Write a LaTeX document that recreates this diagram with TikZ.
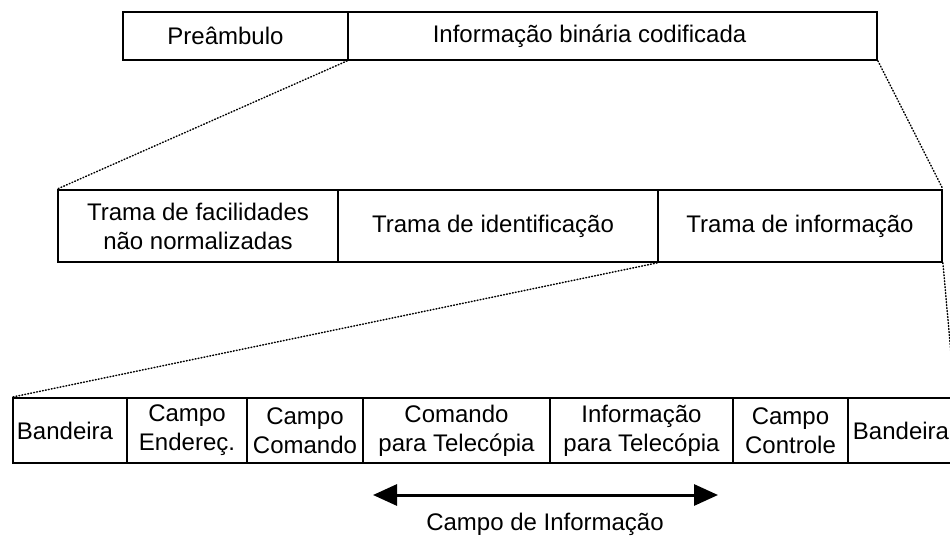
\documentclass[tikz,border=0pt]{standalone}
\usepackage{fontspec}
\setmainfont{Liberation Sans}
\usetikzlibrary{arrows.meta}
\begin{document}
\begin{tikzpicture}[x=1pt,y=-1pt,
  cell/.style={draw, line width=1.8pt, inner sep=0pt, align=center,
    font=\fontsize{24}{29}\selectfont},
  zoomline/.style={line width=1.5pt, dash pattern=on 0.8pt off 2.2pt, line cap=round},
  span/.style={line width=3pt, {Triangle[length=24pt,width=21pt]}-{Triangle[length=24pt,width=21pt]}},
  lbl/.style={font=\fontsize{24}{29}\selectfont, inner sep=0pt}]
\useasboundingbox (0,0) rectangle (950,545);
\clip (0,0) rectangle (950,545);
% top row
\node[cell, minimum width=225pt, minimum height=48pt] (pre) at (235.5,36) {Preâmbulo\hspace*{20pt}};
\node[cell, minimum width=529pt, minimum height=48pt] (bin) at (612.5,36) {Informação binária codificada\hspace*{46pt}};
% middle row
\node[cell, minimum width=280pt, minimum height=72pt] (fac) at (198,226) {Trama de facilidades\\não normalizadas};
\node[cell, minimum width=320pt, minimum height=72pt] (idt) at (498,226) {Trama de identificação\hspace*{10pt}};
\node[cell, minimum width=284pt, minimum height=72pt] (inf) at (800,226) {Trama de informação};
% bottom row
\node[cell, minimum width=114pt, minimum height=65pt] (b1) at (70,430.5) {Bandeira\hspace*{10pt}};
\node[cell, minimum width=120pt, minimum height=65pt] (end) at (187,430.5) {Campo\\Endereç.};
\node[cell, minimum width=116pt, minimum height=65pt] (com) at (305,430.5) {Campo\\Comando};
\node[cell, minimum width=187pt, minimum height=65pt] (cmt) at (456.5,430.5) {Comando\\para Telecópia};
\node[cell, minimum width=183pt, minimum height=65pt] (ift) at (641.5,430.5) {Informação\\para Telecópia};
\node[cell, minimum width=115pt, minimum height=65pt] (ctl) at (790.5,430.5) {Campo\\Controle};
\node[cell, minimum width=106pt, minimum height=65pt] (b2) at (901,430.5) {Bandeira};
% zoom lines
\draw[zoomline] (bin.south west) -- (fac.north west);
\draw[zoomline] (bin.south east) -- (inf.north east);
\draw[zoomline] (inf.south west) -- (b1.north west);
\draw[zoomline] (inf.south east) -- (b2.north east);
% information field arrow
\coordinate (al) at (373,495);
\coordinate (ar) at (718,495);
\draw[span] (al) -- (ar);
\node[lbl] (cinf) at (545,524) {Campo de Informação};
\end{tikzpicture}
\end{document}
